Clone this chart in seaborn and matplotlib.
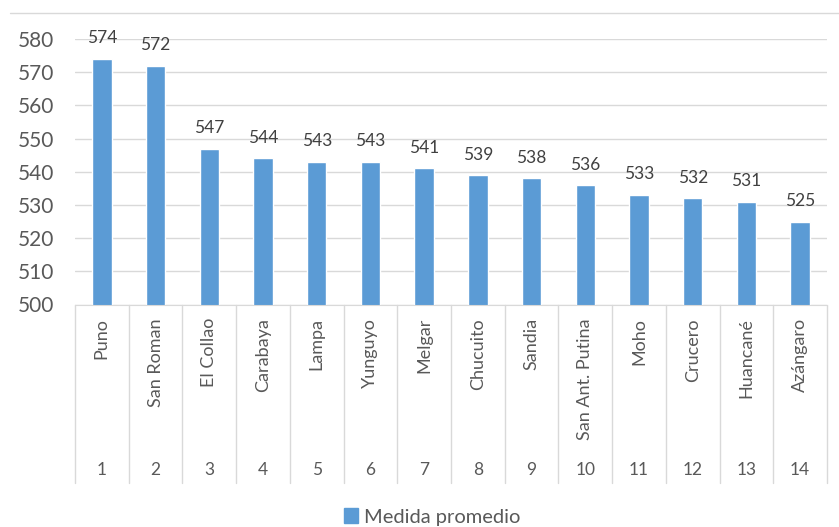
import matplotlib.pyplot as plt
import matplotlib.transforms as mtransforms
from matplotlib.lines import Line2D
from matplotlib.patches import Patch
import seaborn as sns
import pandas as pd

# Datos del grafico
provincias = ["Puno", "San Roman", "El Collao", "Carabaya", "Lampa", "Yunguyo", "Melgar",
              "Chucuito", "Sandia", "San Ant. Putina", "Moho", "Crucero", "Huancané", "Azángaro"]
numeros = ["1", "2", "3", "4", "5", "6", "7", "8", "9", "10", "11", "12", "13", "14"]
medida = [574, 572, 547, 544, 543, 543, 541, 539, 538, 536, 533, 532, 531, 525]
y_ticks = [500, 510, 520, 530, 540, 550, 560, 570, 580]

azul = "#5B9BD5"
gris_texto = "#595959"
gris_linea = "#D9D9D9"

sns.set_style("white")
plt.rcParams['font.family'] = ['Lato', 'DejaVu Sans']

fig = plt.figure(figsize=(8.39, 5.27), dpi=100)
ax = fig.add_axes([75 / 839, 1 - 304.5 / 527, 752 / 839, 265.5 / 527])

df = pd.DataFrame({"Provincia": provincias, "Medida": medida})
sns.barplot(data=df, x="Provincia", y="Medida", color=azul, saturation=1,
            width=0.36, ax=ax)

ax.set_ylim(500, 580)
ax.set_xlim(-0.5, len(provincias) - 0.5)
ax.set_yticks(y_ticks)
ax.yaxis.grid(True, color=gris_linea, linewidth=1)
ax.set_axisbelow(True)
ax.set_xlabel("")
ax.set_ylabel("")
for s in ["left", "right", "top"]:
    ax.spines[s].set_visible(False)
ax.spines["bottom"].set_color(gris_linea)
ax.tick_params(axis="y", length=0, labelsize=15, labelcolor=gris_texto, pad=15)
ax.set_xticks(range(len(provincias)))
ax.set_xticklabels([])
ax.tick_params(axis="x", length=0)

# etiquetas de valores
ax.bar_label(ax.containers[0], padding=9, fontsize=12.5, color="#404040")

# eje de categorias en dos niveles
trans = mtransforms.blended_transform_factory(ax.transData, ax.transAxes)
for i, (p, n) in enumerate(zip(provincias, numeros)):
    ax.text(i, -0.051, p, rotation=90, ha="center", va="top", transform=trans,
            fontsize=13, color=gris_texto)
    ax.text(i, -0.623, n, ha="center", va="center", transform=trans,
            fontsize=12.5, color=gris_texto)
for i in range(len(provincias) + 1):
    ax.plot([i - 0.5, i - 0.5], [0, -0.672], transform=trans, color=gris_linea,
            linewidth=1, clip_on=False)

# borde superior del area del grafico
fig.add_artist(Line2D([10 / 839, 1], [1 - 13 / 527] * 2, color=gris_linea, linewidth=1))

handles = [Patch(color=azul, label="Medida promedio")]
fig.legend(handles=handles, loc="center", bbox_to_anchor=(0.515, 0.019), frameon=False,
           fontsize=14.5, handlelength=0.7, handleheight=0.7, handletextpad=0.3,
           labelcolor=gris_texto)

fig.savefig("out.png", dpi=100)
